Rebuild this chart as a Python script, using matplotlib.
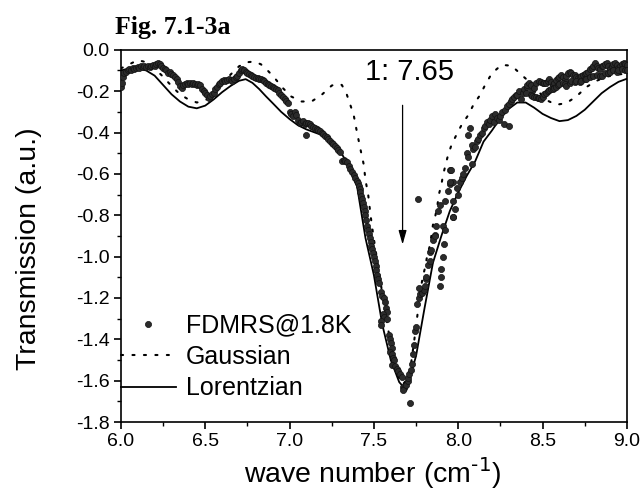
import matplotlib
matplotlib.use("Agg")
import matplotlib.pyplot as plt

plt.rcParams['font.family'] = ['Liberation Sans', 'DejaVu Sans']
plt.rcParams['axes.unicode_minus'] = False

x_low = [6.00, 6.005, 6.01, 6.02, 6.03, 6.04, 6.05, 6.06, 6.07, 6.08, 6.09, 6.10, 6.11, 6.12,
         6.13, 6.14, 6.15, 6.16, 6.17, 6.18, 6.19, 6.20, 6.21, 6.22, 6.23, 6.24, 6.25, 6.26,
         6.27, 6.28, 6.29, 6.30, 6.31, 6.32, 6.33, 6.34, 6.35, 6.36, 6.37, 6.38, 6.39, 6.40,
         6.41, 6.42, 6.43, 6.44, 6.45, 6.46, 6.47, 6.48, 6.49, 6.50, 6.51, 6.52, 6.53, 6.54,
         6.55, 6.56, 6.57, 6.58, 6.59, 6.60, 6.61, 6.62, 6.63, 6.64, 6.65, 6.66, 6.67, 6.68,
         6.69, 6.70, 6.71, 6.72]
y_low = [-0.18, -0.16, -0.13, -0.11, -0.105, -0.10, -0.095, -0.10, -0.09, -0.095, -0.09, -0.085,
         -0.09, -0.08, -0.085, -0.08, -0.085, -0.08, -0.085, -0.08, -0.075, -0.08, -0.07, -0.065,
         -0.07, -0.08, -0.09, -0.095, -0.10, -0.11, -0.105, -0.115, -0.12, -0.13, -0.14, -0.155,
         -0.175, -0.185, -0.17, -0.165, -0.16, -0.165, -0.16, -0.165, -0.16, -0.165, -0.17, -0.165,
         -0.17, -0.19, -0.20, -0.21, -0.22, -0.235, -0.225, -0.215, -0.21, -0.19, -0.18, -0.165,
         -0.16, -0.15, -0.145, -0.15, -0.145, -0.14, -0.145, -0.15, -0.14, -0.13, -0.125, -0.11,
         -0.10, -0.095]

x_mid = [6.73, 6.74, 6.75, 6.76, 6.77, 6.78, 6.79, 6.80, 6.81, 6.82, 6.83, 6.84, 6.85, 6.86,
         6.87, 6.88, 6.89, 6.90, 6.91, 6.92, 6.93, 6.94, 6.95, 6.96, 6.97, 6.98, 6.99, 7.00,
         7.01, 7.02, 7.03, 7.04, 7.05, 7.06, 7.07, 7.08, 7.09, 7.10, 7.10, 7.11, 7.12, 7.13,
         7.14, 7.15, 7.16, 7.17, 7.18, 7.19, 7.20, 7.21, 7.22, 7.23, 7.24, 7.25, 7.26, 7.27,
         7.28, 7.29, 7.30, 7.31, 7.32, 7.33, 7.34, 7.35, 7.36, 7.37, 7.38, 7.39, 7.40]
y_mid = [-0.10, -0.105, -0.11, -0.115, -0.12, -0.125, -0.13, -0.135, -0.135, -0.14, -0.14,
         -0.145, -0.15, -0.16, -0.165, -0.17, -0.175, -0.18, -0.185, -0.19, -0.195, -0.21,
         -0.22, -0.23, -0.24, -0.25, -0.255, -0.30, -0.31, -0.32, -0.30, -0.315, -0.34, -0.355,
         -0.35, -0.345, -0.36, -0.41, -0.355, -0.355, -0.36, -0.37, -0.375, -0.38, -0.385,
         -0.39, -0.395, -0.40, -0.405, -0.415, -0.42, -0.43, -0.44, -0.45, -0.455, -0.465,
         -0.475, -0.485, -0.495, -0.54, -0.535, -0.54, -0.545, -0.56, -0.575, -0.59, -0.605,
         -0.62, -0.635]

x_dip = [7.405, 7.41, 7.415, 7.42, 7.425, 7.43, 7.435, 7.44, 7.445, 7.45, 7.455, 7.46, 7.465,
         7.47, 7.475, 7.48, 7.485, 7.49, 7.495, 7.50, 7.505, 7.51, 7.515, 7.52, 7.525, 7.53,
         7.545, 7.55, 7.56, 7.565, 7.57, 7.575, 7.555, 7.56, 7.54, 7.545, 7.58, 7.59, 7.595,
         7.60, 7.605, 7.595, 7.61, 7.615, 7.62, 7.61, 7.625, 7.635, 7.645, 7.655, 7.665, 7.67,
         7.68, 7.675, 7.69, 7.70, 7.705, 7.71, 7.715, 7.72, 7.725, 7.73, 7.735, 7.745, 7.75,
         7.755, 7.765, 7.775, 7.785, 7.795, 7.80, 7.81]
y_dip = [-0.645, -0.66, -0.675, -0.69, -0.705, -0.72, -0.74, -0.76, -0.78, -0.80, -0.825,
         -0.85, -0.87, -0.89, -0.91, -0.93, -0.95, -0.965, -0.985, -1.00, -1.02, -1.045, -1.065,
         -1.09, -1.11, -1.13, -1.17, -1.19, -1.20, -1.22, -1.25, -1.27, -1.28, -1.29, -1.31,
         -1.33, -1.30, -1.38, -1.40, -1.42, -1.44, -1.46, -1.47, -1.49, -1.50, -1.525, -1.53,
         -1.545, -1.555, -1.57, -1.58, -1.63, -1.635, -1.645, -1.62, -1.60, -1.585, -1.57,
         -1.71, -1.55, -1.52, -1.47, -1.43, -1.36, -1.34, -1.23, -1.20, -1.18, -1.175, -1.16,
         -1.14, -1.11]

x_rise = [7.76, 7.77, 7.81, 7.82, 7.83, 7.83, 7.84, 7.85, 7.86, 7.86, 7.87, 7.88, 7.89, 7.91,
          7.915, 7.91, 7.90, 7.90, 7.89, 7.92, 7.94, 7.95, 7.95, 7.97, 7.97, 7.92, 7.97, 7.98,
          7.97, 7.99, 7.95, 7.96, 8.00, 8.01, 8.02, 8.03, 8.04, 8.05, 8.06, 8.06, 8.08, 8.09,
          8.08, 8.07, 8.10, 8.11, 8.12, 8.13, 8.14, 8.15, 8.16, 8.17, 8.18, 8.19, 8.20, 8.21,
          8.22, 8.23, 8.24, 8.25, 8.27, 8.26, 8.28, 8.29, 8.30, 8.30, 8.31, 8.32, 8.33, 8.34,
          8.35, 8.36, 8.37, 8.385, 8.39, 8.40, 8.405, 8.41, 8.42, 8.43, 8.44, 8.45, 8.46]
y_rise = [-0.72, -1.15, -1.10, -1.04, -0.98, -1.02, -0.97, -0.92, -0.895, -0.90, -0.85, -0.78,
          -0.75, -0.85, -0.94, -1.00, -1.06, -1.10, -1.14, -0.73, -0.685, -0.65, -0.58, -0.81,
          -0.64, -0.87, -0.81, -0.77, -0.73, -0.67, -0.64, -0.58, -0.70, -0.64, -0.62, -0.60,
          -0.57, -0.50, -0.41, -0.52, -0.55, -0.48, -0.46, -0.38, -0.47, -0.44, -0.43, -0.41,
          -0.40, -0.38, -0.37, -0.35, -0.36, -0.34, -0.32, -0.35, -0.31, -0.33, -0.34, -0.32,
          -0.36, -0.30, -0.29, -0.27, -0.37, -0.26, -0.25, -0.24, -0.23, -0.22, -0.22, -0.20,
          -0.24, -0.21, -0.19, -0.21, -0.18, -0.17, -0.16, -0.17, -0.20, -0.185, -0.16]

x_top = [8.48, 8.49, 8.50, 8.51, 8.52, 8.53, 8.54, 8.55, 8.56, 8.57, 8.58, 8.59, 8.60, 8.61,
         8.62, 8.63, 8.64, 8.65, 8.66, 8.67, 8.68, 8.69, 8.70, 8.71, 8.72, 8.73, 8.74, 8.75,
         8.76, 8.77, 8.78, 8.79, 8.80, 8.81, 8.82, 8.83, 8.84, 8.85, 8.86, 8.87, 8.88, 8.89,
         8.90, 8.91, 8.92, 8.93, 8.94, 8.95, 8.96, 8.97, 8.98, 8.99, 9.00]
y_top = [-0.15, -0.155, -0.16, -0.16, -0.16, -0.15, -0.14, -0.155, -0.17, -0.16, -0.145,
         -0.135, -0.13, -0.12, -0.13, -0.145, -0.125, -0.11, -0.105, -0.11, -0.12, -0.12,
         -0.13, -0.135, -0.13, -0.125, -0.12, -0.115, -0.11, -0.105, -0.095, -0.09, -0.08,
         -0.065, -0.08, -0.09, -0.095, -0.08, -0.08, -0.07, -0.065, -0.08, -0.095, -0.08,
         -0.07, -0.065, -0.075, -0.09, -0.08, -0.07, -0.065, -0.07, -0.075]
x_bot = [8.43, 8.44, 8.45, 8.46, 8.47, 8.48, 8.49, 8.50, 8.51, 8.52, 8.53, 8.54, 8.55, 8.56,
         8.57, 8.58, 8.59, 8.60, 8.62, 8.63, 8.64, 8.66, 8.67, 8.69, 8.70, 8.72, 8.73, 8.75,
         8.76, 8.78, 8.80, 8.82, 8.84, 8.85, 8.87, 8.89, 8.90, 8.92, 8.94, 8.95, 8.97, 8.99,
         9.00]
y_bot = [-0.22, -0.225, -0.23, -0.23, -0.235, -0.235, -0.24, -0.23, -0.215, -0.21, -0.20,
         -0.195, -0.19, -0.19, -0.185, -0.18, -0.17, -0.165, -0.16, -0.165, -0.175, -0.16,
         -0.15, -0.155, -0.15, -0.155, -0.15, -0.14, -0.14, -0.13, -0.125, -0.12, -0.125,
         -0.125, -0.11, -0.11, -0.105, -0.10, -0.105, -0.10, -0.095, -0.10, -0.10]

# Gaussian fit (dotted)
x_gauss = [6.00, 6.05, 6.10, 6.15, 6.20, 6.25, 6.30, 6.35, 6.40, 6.45, 6.50, 6.55, 6.60, 6.65,
           6.70, 6.75, 6.79, 6.83, 6.87, 6.91, 6.96, 7.01, 7.07, 7.13, 7.19, 7.25, 7.28, 7.31,
           7.34, 7.36, 7.38, 7.40, 7.42, 7.44, 7.45, 7.466, 7.48, 7.496, 7.516, 7.525, 7.55,
           7.58, 7.61, 7.64, 7.67, 7.70, 7.72, 7.74, 7.76, 7.78, 7.79, 7.805, 7.815, 7.83, 7.84,
           7.85, 7.865, 7.877, 7.885, 7.90, 7.91, 7.925, 7.94, 7.96, 7.99, 8.02, 8.06, 8.09,
           8.13, 8.16, 8.20, 8.257, 8.316, 8.375, 8.44, 8.52, 8.58, 8.64, 8.70, 8.76, 8.82,
           8.88, 8.94, 9.00]
y_gauss = [-0.09, -0.07, -0.05, -0.06, -0.09, -0.13, -0.175, -0.215, -0.24, -0.255, -0.245,
           -0.215, -0.17, -0.12, -0.08, -0.06, -0.057, -0.07, -0.10, -0.135, -0.185, -0.226,
           -0.25, -0.25, -0.218, -0.173, -0.165, -0.17, -0.218, -0.266, -0.315, -0.40, -0.48,
           -0.556, -0.63, -0.70, -0.80, -0.895, -1.00, -1.05, -1.18, -1.33, -1.47, -1.57, -1.62,
           -1.59, -1.52, -1.40, -1.27, -1.145, -1.097, -1.048, -1.00, -0.952, -0.903, -0.847,
           -0.80, -0.75, -0.70, -0.653, -0.605, -0.556, -0.508, -0.46, -0.41, -0.363, -0.315,
           -0.266, -0.218, -0.169, -0.113, -0.073, -0.077, -0.121, -0.169, -0.242, -0.266,
           -0.258, -0.226, -0.18, -0.15, -0.13, -0.12, -0.115]

# Lorentzian fit (solid)
x_lor = [6.00, 6.05, 6.10, 6.15, 6.20, 6.25, 6.30, 6.35, 6.40, 6.45, 6.50, 6.55, 6.60, 6.65,
         6.70, 6.74, 6.78, 6.82, 6.86, 6.90, 6.95, 7.00, 7.05, 7.10, 7.15, 7.20, 7.25, 7.30,
         7.35, 7.40, 7.45, 7.50, 7.55, 7.60, 7.65, 7.68, 7.71, 7.75, 7.80, 7.85, 7.90, 7.95,
         8.00, 8.05, 8.10, 8.15, 8.20, 8.25, 8.30, 8.35, 8.40, 8.45, 8.50, 8.55, 8.60, 8.65,
         8.70, 8.75, 8.80, 8.85, 8.90, 8.95, 9.00]
y_lor = [-0.10, -0.09, -0.09, -0.10, -0.125, -0.17, -0.215, -0.25, -0.275, -0.283, -0.27,
         -0.24, -0.205, -0.175, -0.15, -0.142, -0.16, -0.19, -0.225, -0.258, -0.30, -0.335,
         -0.365, -0.385, -0.40, -0.415, -0.44, -0.49, -0.56, -0.66, -0.91, -1.09, -1.33, -1.50,
         -1.607, -1.635, -1.595, -1.48, -1.25, -1.03, -0.90, -0.78, -0.69, -0.61, -0.54, -0.444,
         -0.39, -0.33, -0.285, -0.255, -0.255, -0.28, -0.31, -0.33, -0.345, -0.34, -0.32, -0.29,
         -0.25, -0.21, -0.18, -0.155, -0.14]

x_data = x_low + x_mid + x_dip + x_rise + x_top + x_bot
y_data = y_low + y_mid + y_dip + y_rise + y_top + y_bot

peak_x = 7.67
peak_label = "1: 7.65"


def main():
    fig = plt.figure(figsize=(6.43, 4.93), dpi=100)
    ax = fig.add_axes([0.188, 0.144, 0.787, 0.755])

    ax.plot(x_data, y_data, 'o', ms=4.4, mfc='#2b2b2b', mec='#111111', mew=0.5,
            label='FDMRS@1.8K', zorder=3)
    ax.plot(x_gauss, y_gauss, color='black', lw=1.5, ls=(0, (1, 4.5)),
            dash_capstyle='round', label='Gaussian')
    ax.plot(x_lor, y_lor, color='black', lw=1.3, label='Lorentzian')

    ax.annotate('', xy=(peak_x, -0.955), xytext=(peak_x, -0.255),
                arrowprops=dict(arrowstyle='-|>,head_length=0.7,head_width=0.2',
                                color='black', lw=0.9, mutation_scale=12))
    ax.text(7.71, -0.145, peak_label, fontsize=21, ha='center', va='baseline')

    ax.set_xlim(6.0, 9.0)
    ax.set_ylim(-1.8, 0.0)
    ax.set_xticks([6.0, 6.5, 7.0, 7.5, 8.0, 8.5, 9.0])
    ax.set_xticks([6.25, 6.75, 7.25, 7.75, 8.25, 8.75], minor=True)
    ax.set_yticks([-1.8, -1.6, -1.4, -1.2, -1.0, -0.8, -0.6, -0.4, -0.2, 0.0])
    ax.set_yticks([-1.7, -1.5, -1.3, -1.1, -0.9, -0.7, -0.5, -0.3, -0.1], minor=True)
    ax.set_xticklabels(['6.0', '6.5', '7.0', '7.5', '8.0', '8.5', '9.0'])
    ax.set_yticklabels(['-1.8', '-1.6', '-1.4', '-1.2', '-1.0', '-0.8', '-0.6',
                        '-0.4', '-0.2', '0.0'])
    ax.tick_params(which='major', direction='out', length=5, width=1.2, labelsize=14, pad=3)
    ax.tick_params(which='minor', direction='out', length=3, width=1.0)
    for s in ax.spines.values():
        s.set_linewidth(1.2)

    ax.set_xlabel('wave number (cm$^{\\text{-1}}$)', fontsize=20.5)
    ax.set_ylabel('Transmission (a.u.)', fontsize=20.5)
    ax.xaxis.set_label_coords(0.497, -0.088)
    ax.yaxis.set_label_coords(-0.155, 0.465)

    ax.legend(loc='lower left', bbox_to_anchor=(0.0, 0.058), frameon=False, fontsize=18,
              handlelength=2.2, handletextpad=0.4, labelspacing=0.3, borderpad=0,
              borderaxespad=0, numpoints=1)

    fig.text(0.179, 0.931, 'Fig. 7.1-3a', fontsize=18.5, fontweight='bold',
             family=['Liberation Serif', 'DejaVu Serif'], va='baseline')

    fig.savefig('out.png', dpi=100)


if __name__ == '__main__':
    main()
